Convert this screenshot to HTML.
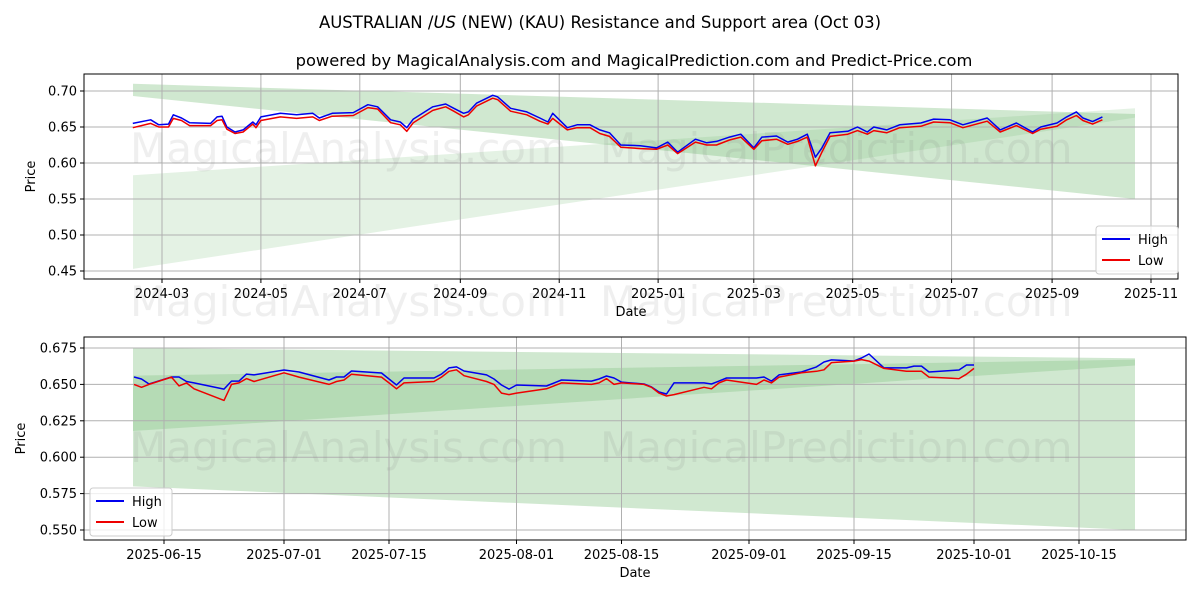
<!DOCTYPE html>
<html><head><meta charset="utf-8"><style>
body{margin:0;background:#fff;}
svg{display:block;font-family:"DejaVu Sans","Liberation Sans",sans-serif;}
</style></head><body>
<svg id="chart" width="1200" height="600" viewBox="0 0 1200 600">
<rect width="1200" height="600" fill="#fff"/>
<text x="600" y="28" text-anchor="middle" font-size="16.5">AUSTRALIAN /<tspan font-style="italic">US</tspan> (NEW) (KAU) Resistance and Support area (Oct 03)</text>
<text x="634" y="66" text-anchor="middle" font-size="16.3">powered by MagicalAnalysis.com and MagicalPrediction.com and Predict-Price.com</text>
<g id="top"></g>
<g id="bot"></g>
</svg>
<script>
const topDates=["2024-02-12","2024-02-23","2024-02-28","2024-03-05","2024-03-08","2024-03-13","2024-03-18","2024-03-31","2024-04-04","2024-04-07","2024-04-10","2024-04-15","2024-04-20","2024-04-26","2024-04-28","2024-05-01","2024-05-13","2024-05-23","2024-06-02","2024-06-06","2024-06-14","2024-06-27","2024-07-06","2024-07-12","2024-07-20","2024-07-26","2024-07-30","2024-08-03","2024-08-15","2024-08-23","2024-08-28","2024-09-03","2024-09-06","2024-09-11","2024-09-21","2024-09-24","2024-10-02","2024-10-12","2024-10-20","2024-10-25","2024-10-28","2024-11-06","2024-11-12","2024-11-20","2024-11-26","2024-12-02","2024-12-09","2024-12-21","2024-12-31","2025-01-07","2025-01-13","2025-01-24","2025-01-31","2025-02-06","2025-02-14","2025-02-21","2025-03-01","2025-03-06","2025-03-15","2025-03-22","2025-03-28","2025-04-03","2025-04-08","2025-04-12","2025-04-17","2025-04-28","2025-05-04","2025-05-10","2025-05-14","2025-05-22","2025-05-30","2025-06-12","2025-06-20","2025-06-30","2025-07-08","2025-07-23","2025-07-31","2025-08-10","2025-08-20","2025-08-25","2025-09-04","2025-09-10","2025-09-16","2025-09-20","2025-09-26","2025-10-02"];
const topHigh=[.655,.660,.653,.654,.667,.6625,.656,.655,.664,.665,.650,.643,.646,.657,.653,.664,.669,.667,.669,.6625,.669,.670,.681,.678,.660,.657,.649,.661,.678,.682,.676,.669,.671,.683,.694,.692,.676,.671,.6625,.657,.669,.649,.653,.653,.646,.642,.625,.624,.621,.629,.615,.633,.628,.630,.636,.640,.621,.636,.6375,.629,.633,.640,.608,.621,.642,.644,.650,.643,.650,.646,.653,.6555,.661,.660,.653,.6625,.646,.6555,.643,.650,.6555,.664,.671,.6625,.6575,.664];
const topLow=[.649,.655,.650,.650,.662,.659,.652,.652,.659,.660,.647,.641,.643,.654,.649,.659,.664,.662,.664,.659,.665,.666,.677,.675,.656,.653,.644,.656,.673,.678,.672,.664,.667,.679,.690,.688,.672,.667,.658,.654,.662,.646,.649,.649,.641,.637,.622,.620,.619,.625,.613,.629,.625,.625,.632,.636,.619,.631,.633,.626,.630,.636,.596,.615,.637,.640,.645,.640,.645,.642,.649,.651,.657,.656,.649,.658,.643,.652,.641,.647,.651,.660,.666,.659,.654,.660];
const topTicks=[0.45,0.50,0.55,0.60,0.65,0.70];
const topXTicks=["2024-03-01","2024-05-01","2024-07-01","2024-09-01","2024-11-01","2025-01-01","2025-03-01","2025-05-01","2025-07-01","2025-09-01","2025-11-01"];
const topBandA=[0.710,0.693,0.668,0.550];
const topBandB=[0.583,0.453,0.676,0.663];
const botDates=["2025-06-11","2025-06-12","2025-06-13","2025-06-16","2025-06-17","2025-06-18","2025-06-19","2025-06-23","2025-06-24","2025-06-25","2025-06-26","2025-06-27","2025-07-01","2025-07-03","2025-07-07","2025-07-08","2025-07-09","2025-07-10","2025-07-14","2025-07-15","2025-07-16","2025-07-17","2025-07-21","2025-07-22","2025-07-23","2025-07-24","2025-07-25","2025-07-28","2025-07-29","2025-07-30","2025-07-31","2025-08-01","2025-08-05","2025-08-07","2025-08-11","2025-08-12","2025-08-13","2025-08-14","2025-08-15","2025-08-18","2025-08-19","2025-08-20","2025-08-21","2025-08-22","2025-08-26","2025-08-27","2025-08-28","2025-08-29","2025-09-02","2025-09-03","2025-09-04","2025-09-05","2025-09-08","2025-09-10","2025-09-11","2025-09-12","2025-09-15","2025-09-16","2025-09-17","2025-09-19","2025-09-22","2025-09-23","2025-09-24","2025-09-25","2025-09-29","2025-09-30","2025-10-01"];
const botHigh=[.6551,.6537,.6503,.6551,.6551,.652,.6510,.6468,.6523,.6523,.6571,.6565,.6599,.6585,.6530,.6551,.6551,.6592,.6578,.6537,.6496,.6544,.6544,.6571,.6613,.6620,.6592,.6565,.6537,.6496,.6468,.6496,.6489,.6530,.6523,.6537,.6558,.6544,.6516,.6503,.6482,.6448,.6434,.6510,.6510,.6503,.6523,.6544,.6544,.6551,.6523,.6565,.6585,.6620,.6654,.6668,.6661,.6681,.6709,.6613,.6613,.6626,.6626,.6585,.6599,.6633,.6633];
const botLow=[.650,.648,.650,.655,.649,.651,.647,.639,.650,.651,.654,.652,.658,.655,.650,.652,.653,.657,.655,.651,.647,.651,.652,.655,.659,.660,.656,.652,.650,.644,.643,.644,.647,.651,.650,.651,.654,.650,.651,.650,.648,.644,.642,.643,.648,.647,.651,.653,.650,.653,.651,.655,.658,.659,.660,.665,.666,.667,.666,.661,.659,.659,.659,.655,.654,.657,.661];
const botTicks=[0.550,0.575,0.600,0.625,0.650,0.675];
const botXTicks=["2025-06-15","2025-07-01","2025-07-15","2025-08-01","2025-08-15","2025-09-01","2025-09-15","2025-10-01","2025-10-15"];
const botBandLight=[0.675,0.580,0.668,0.550];
const botBandDark=[0.656,0.618,0.667,0.663];

const NS="http://www.w3.org/2000/svg";
function mk(p,tag,a){const e=document.createElementNS(NS,tag);for(const k in a)e.setAttribute(k,a[k]);p.appendChild(e);return e;}
const DAY=86400000;
function panel(g,cfg){
  const {x0,x1,y0,y1,xs,ys}=cfg;
  mk(g,'rect',{x:x0,y:y0,width:x1-x0,height:y1-y0,fill:'#fff'});
  cfg.bands.forEach((b,i)=>{
    const xl=cfg.bandX[0],xr=cfg.bandX[1];
    const p=mk(g,'polygon',{points:`${xl},${ys(b[0])} ${xr},${ys(b[2])} ${xr},${ys(b[3])} ${xl},${ys(b[1])}`,fill:cfg.bandColors[i]});
    
    
  });
  cfg.yt.forEach(v=>{const y=ys(v);
    mk(g,'line',{x1:x0,x2:x1,y1:y,y2:y,stroke:'#b0b0b0','stroke-width':1});
    mk(g,'line',{x1:x0-4,x2:x0,y1:y,y2:y,stroke:'#000'});
    const t=mk(g,'text',{x:x0-7,y:y+4.5,'text-anchor':'end','font-size':13});t.textContent=v.toFixed(cfg.dec);
    
    
  });
  cfg.xt.forEach(d=>{const x=xs(d);
    mk(g,'line',{x1:x,x2:x,y1:y0,y2:y1,stroke:'#b0b0b0','stroke-width':1});
    mk(g,'line',{x1:x,x2:x,y1:y1,y2:y1+4,stroke:'#000'});
    const t=mk(g,'text',{x:x,y:y1+19,'text-anchor':'middle','font-size':13});t.textContent=cfg.fmt(d);
    
    
  });
  cfg.wm.forEach(w=>{const t=mk(g,'text',{x:w[0],y:w[1],'font-size':42,fill:'rgba(120,120,120,0.12)'});t.textContent=w[2];
    
    });
  [[cfg.hi,'#0000ee','high-line'],[cfg.lo,'#ee0000','low-line']].forEach(s=>{
    const pts=cfg.dates.map((d,i)=>xs(d).toFixed(1)+','+ys(s[0][i]).toFixed(1)).join(' ');
    const l=mk(g,'polyline',{points:pts,fill:'none',stroke:s[1],'stroke-width':1.5,'stroke-linejoin':'round'});
    
    
  });
  mk(g,'rect',{x:x0,y:y0,width:x1-x0,height:y1-y0,fill:'none',stroke:'#000','stroke-width':1});
  const xl=mk(g,'text',{x:(x0+x1)/2,y:y1+37,'text-anchor':'middle','font-size':13});xl.textContent='Date';
  
  
  const yl=mk(g,'text',{x:cfg.ylx,y:(y0+y1)/2,'text-anchor':'middle','font-size':13,transform:`rotate(-90 ${cfg.ylx} ${(y0+y1)/2})`});yl.textContent='Price';
  
  
  const [lx,ly]=cfg.leg;
  const lg=mk(g,'g',{});
  
  
  mk(lg,'rect',{x:lx,y:ly,width:82,height:48,rx:3,fill:'rgba(255,255,255,0.8)',stroke:'#ccc'});
  [['High','#0000ee'],['Low','#ee0000']].forEach((e,i)=>{
    const yy=ly+13+i*21;
    mk(lg,'line',{x1:lx+6,x2:lx+34,y1:yy,y2:yy,stroke:e[1],'stroke-width':2});
    const t=mk(lg,'text',{x:lx+42,y:yy+5,'font-size':13});t.textContent=e[0];
    
    
  });
}
const t0=Date.parse("2024-03-01");
panel(document.getElementById('top'),{
  x0:84,x1:1178,y0:74,y1:279,
  xs:d=>162+(Date.parse(d)-t0)/DAY*1.6213,
  ys:v=>91+(0.70-v)*720,
  bands:[topBandA,topBandB],bandX:[133,1135],bandColors:['rgba(120,190,120,0.35)','rgba(120,190,120,0.2)'],
  yt:topTicks,dec:2,xt:topXTicks,fmt:d=>d.slice(0,7),
  wm:[[130,163,'MagicalAnalysis.com'],[600,163,'MagicalPrediction.com'],[130,316,'MagicalAnalysis.com'],[600,316,'MagicalPrediction.com']],
  dates:topDates,hi:topHigh,lo:topLow,ylx:35,leg:[1096,226]
});
const b0=Date.parse("2025-06-15");
panel(document.getElementById('bot'),{
  x0:84,x1:1186,y0:337,y1:540,
  xs:d=>164+(Date.parse(d)-b0)/DAY*7.5,
  ys:v=>348+(0.675-v)*1456,
  bands:[botBandLight,botBandDark],bandX:[133,1135],bandColors:['rgba(120,190,120,0.35)','rgba(120,190,120,0.3)'],
  yt:botTicks,dec:3,xt:botXTicks,fmt:d=>d,
  wm:[[130,462,'MagicalAnalysis.com'],[600,462,'MagicalPrediction.com']],
  dates:botDates,hi:botHigh,lo:botLow,ylx:25,leg:[90,488]
});
</script>
</body></html>
